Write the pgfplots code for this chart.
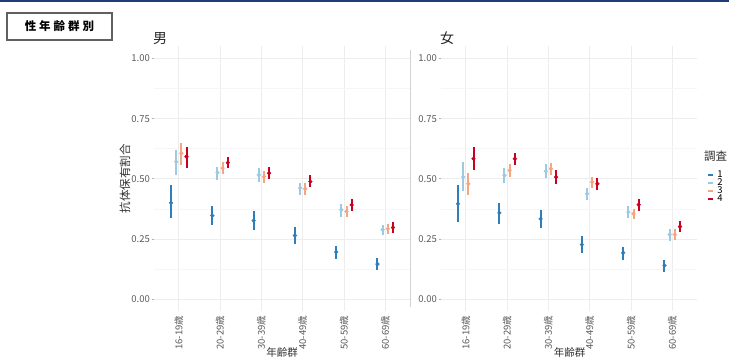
\documentclass[border=0pt]{standalone}
\usepackage{fontspec}
\setmainfont{Noto Sans CJK JP}
\usepackage{pgfplots}
\pgfplotsset{compat=1.18}
\usepackage{pgfplotstable}
\definecolor{sA}{HTML}{2E7EBB}
\definecolor{sB}{HTML}{9DCAE1}
\definecolor{sC}{HTML}{F4A582}
\definecolor{sD}{HTML}{CA0020}
\definecolor{tickgray}{HTML}{5A5A5A}
\definecolor{gridmaj}{HTML}{EDEDED}
\definecolor{gridmin}{HTML}{F6F6F6}
\definecolor{navy}{HTML}{1F3C78}

\pgfplotstableread{
x m1 l1 h1 m2 l2 h2 m3 l3 h3 m4 l4 h4
1 0.400 0.335 0.475 0.571 0.516 0.620 0.606 0.557 0.647 0.592 0.544 0.633
2 0.347 0.306 0.387 0.526 0.495 0.550 0.544 0.519 0.568 0.567 0.544 0.592
3 0.326 0.285 0.367 0.516 0.488 0.544 0.509 0.484 0.534 0.523 0.498 0.548
4 0.264 0.230 0.299 0.461 0.433 0.484 0.458 0.433 0.481 0.488 0.465 0.516
5 0.195 0.167 0.221 0.371 0.343 0.394 0.364 0.343 0.387 0.391 0.367 0.415
6 0.145 0.119 0.170 0.288 0.267 0.308 0.292 0.271 0.311 0.297 0.274 0.320
}\male

\pgfplotstableread{
x m1 l1 h1 m2 l2 h2 m3 l3 h3 m4 l4 h4
1 0.396 0.320 0.475 0.507 0.451 0.569 0.479 0.431 0.524 0.583 0.535 0.632
2 0.358 0.313 0.400 0.514 0.482 0.544 0.535 0.507 0.560 0.583 0.556 0.608
3 0.333 0.296 0.371 0.531 0.504 0.560 0.542 0.517 0.567 0.507 0.479 0.535
4 0.226 0.192 0.260 0.438 0.410 0.461 0.486 0.463 0.507 0.479 0.454 0.504
5 0.192 0.164 0.218 0.361 0.336 0.386 0.354 0.331 0.375 0.392 0.365 0.417
6 0.139 0.111 0.164 0.268 0.243 0.292 0.268 0.247 0.289 0.301 0.278 0.326
}\female

\pgfplotsset{
  panel/.style={
    scale only axis, width=256pt, height=264.5pt,
    xmin=0.4, xmax=6.6, ymin=-0.05, ymax=1.05,
    xtick={1,2,3,4,5,6},
    xticklabels={16-19歳,20-29歳,30-39歳,40-49歳,50-59歳,60-69歳},
    ytick={0,0.25,0.5,0.75,1},
    yticklabels={0.00,0.25,0.50,0.75,1.00},
    minor ytick={0.125,0.375,0.625,0.875},
    grid=both,
    major grid style={color=gridmaj, line width=0.7pt},
    minor grid style={color=gridmin, line width=0.4pt},
    axis line style={draw=none},
    tick pos=left, tick align=outside,
    major tick length=2.5pt, minor tick length=0pt,
    xtick style={draw=none},
    ytick style={draw=gray!60, line width=0.5pt},
    xticklabel style={rotate=90, anchor=east, font=\fontsize{9.5}{9.5}\selectfont, text=tickgray, inner sep=2pt},
    yticklabel style={font=\fontsize{9.5}{9.5}\selectfont, text=tickgray, inner sep=1.5pt},
    clip=false,
  },
  pr/.style={only marks, mark=*, mark size=1.9pt, color=#1,
    legend image code/.code={\draw[line width=2pt] (0pt,0pt) -- (5pt,0pt);},
    error bars/.cd, y dir=both, y explicit, error mark=none,
    error bar style={line width=2pt}},
}

\begin{document}
\begin{tikzpicture}
\useasboundingbox (0,0) rectangle (729pt,359pt);
\clip (0,0) rectangle (729pt,359pt);
\fill[white] (0,0) rectangle (729pt,359pt);
\fill[navy] (0,357pt) rectangle (729pt,359pt);

% header box
\node[draw=gray!75!black, line width=1.1pt, fill=white, minimum width=105pt, minimum height=27pt,
  font=\bfseries\fontsize{11.5}{11.5}\selectfont] at (59.5pt,332.5pt) {性\hspace{3pt}年\hspace{3pt}齢\hspace{3pt}群\hspace{3pt}別};

% separator line
\draw[color=gray!35, line width=1.5pt] (410.5pt,52pt) -- (410.5pt,309pt);

% left panel (male)
\begin{axis}[panel, at={(154pt,48pt)}, anchor=south west]
\addplot[pr=sA] table[x expr=\thisrow{x}-0.1875, y=m1, y error plus expr=\thisrow{h1}-\thisrow{m1}, y error minus expr=\thisrow{m1}-\thisrow{l1}] {\male};
\addplot[pr=sB] table[x expr=\thisrow{x}-0.0625, y=m2, y error plus expr=\thisrow{h2}-\thisrow{m2}, y error minus expr=\thisrow{m2}-\thisrow{l2}] {\male};
\addplot[pr=sC] table[x expr=\thisrow{x}+0.0625, y=m3, y error plus expr=\thisrow{h3}-\thisrow{m3}, y error minus expr=\thisrow{m3}-\thisrow{l3}] {\male};
\addplot[pr=sD] table[x expr=\thisrow{x}+0.1875, y=m4, y error plus expr=\thisrow{h4}-\thisrow{m4}, y error minus expr=\thisrow{m4}-\thisrow{l4}] {\male};
\end{axis}

% right panel (female)
\begin{axis}[panel, at={(441pt,48pt)}, anchor=south west,
  legend entries={1,2,3,4},
  legend style={at={(1.028,0.541)}, anchor=north west, draw=none, fill=none,
    font=\fontsize{9.5}{9.5}\selectfont, row sep=-1.8pt, column sep=2pt,
    nodes={inner sep=1pt, text height=6.8pt, text depth=1pt}},
  legend cell align=left]
\addplot[pr=sA] table[x expr=\thisrow{x}-0.1875, y=m1, y error plus expr=\thisrow{h1}-\thisrow{m1}, y error minus expr=\thisrow{m1}-\thisrow{l1}] {\female};
\addplot[pr=sB] table[x expr=\thisrow{x}-0.0625, y=m2, y error plus expr=\thisrow{h2}-\thisrow{m2}, y error minus expr=\thisrow{m2}-\thisrow{l2}] {\female};
\addplot[pr=sC] table[x expr=\thisrow{x}+0.0625, y=m3, y error plus expr=\thisrow{h3}-\thisrow{m3}, y error minus expr=\thisrow{m3}-\thisrow{l3}] {\female};
\addplot[pr=sD] table[x expr=\thisrow{x}+0.1875, y=m4, y error plus expr=\thisrow{h4}-\thisrow{m4}, y error minus expr=\thisrow{m4}-\thisrow{l4}] {\female};
\end{axis}

% titles and labels
\node[anchor=west, inner sep=0pt, font=\fontsize{14}{14}\selectfont, text=black!85] at (153pt,320.5pt) {男};
\node[anchor=west, inner sep=0pt, font=\fontsize{14}{14}\selectfont, text=black!85] at (440pt,320.5pt) {女};
\node[rotate=90, inner sep=0pt, font=\fontsize{11.5}{11.5}\selectfont, text=black!80] at (125pt,180.25pt) {抗体保有割合};
\node[anchor=south, inner sep=0pt, font=\fontsize{10.5}{10.5}\selectfont, text=black!80] at (282pt,1.5pt) {年齢群};
\node[anchor=south, inner sep=0pt, font=\fontsize{10.5}{10.5}\selectfont, text=black!80] at (569.5pt,1.5pt) {年齢群};
\node[anchor=west, inner sep=0pt, font=\fontsize{11.5}{11.5}\selectfont, text=black!80] at (704pt,203pt) {調査};
\end{tikzpicture}
\end{document}
